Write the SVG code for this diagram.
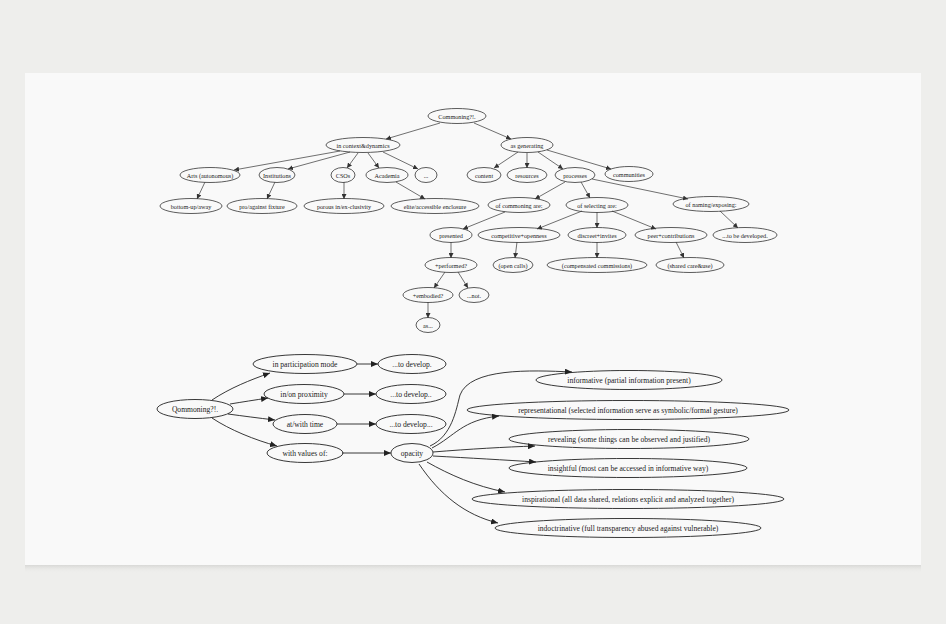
<svg xmlns="http://www.w3.org/2000/svg" width="946" height="624" viewBox="0 0 946 624">
<defs>
<marker id="a" markerUnits="userSpaceOnUse" markerWidth="6" markerHeight="5" refX="5" refY="2.5" orient="auto"><path d="M0,0 L5,2.5 L0,5 Z" fill="#333"/></marker>
<marker id="b" markerUnits="userSpaceOnUse" markerWidth="8" markerHeight="6" refX="7" refY="3" orient="auto"><path d="M0,0 L7,3 L0,6 Z" fill="#222"/></marker>
<linearGradient id="sh" x1="0" y1="0" x2="0" y2="1"><stop offset="0" stop-color="#d8d8d6"/><stop offset="1" stop-color="#eeeeec" stop-opacity="0"/></linearGradient>
</defs>
<style>
.n ellipse{fill:none;stroke:#333;stroke-width:0.8}
.t text{font-family:"Liberation Serif",serif;font-size:6.2px;fill:#222;text-anchor:middle;dominant-baseline:central}
.bt text{font-family:"Liberation Serif",serif;font-size:7.6px;fill:#1a1a1a;text-anchor:middle;dominant-baseline:central}
.bt ellipse{fill:none;stroke:#222;stroke-width:0.9}
#edges path,#edges line{fill:none;stroke:#333;stroke-width:0.7}
#edges2 path,#edges2 line{fill:none;stroke:#222;stroke-width:0.9}
</style>
<rect width="946" height="624" fill="#eeeeec"/>
<rect x="25" y="565" width="896" height="8" fill="url(#sh)"/>
<rect x="25" y="73" width="896" height="492" fill="#f9f9f9"/>

<g id="edges">
<line x1="440" y1="123" x2="386" y2="139" marker-end="url(#a)"/>
<line x1="474" y1="123" x2="511" y2="139" marker-end="url(#a)"/>
<line x1="340" y1="151" x2="234" y2="170" marker-end="url(#a)"/>
<line x1="350" y1="152" x2="288" y2="169" marker-end="url(#a)"/>
<line x1="358" y1="153" x2="347" y2="168" marker-end="url(#a)"/>
<line x1="368" y1="153" x2="379" y2="168" marker-end="url(#a)"/>
<line x1="383" y1="152" x2="418" y2="169" marker-end="url(#a)"/>
<line x1="205" y1="182" x2="197" y2="199" marker-end="url(#a)"/>
<line x1="275" y1="182" x2="267" y2="199" marker-end="url(#a)"/>
<line x1="344" y1="182" x2="344" y2="199" marker-end="url(#a)"/>
<line x1="396" y1="182" x2="425" y2="199" marker-end="url(#a)"/>
<line x1="518" y1="152" x2="494" y2="168" marker-end="url(#a)"/>
<line x1="527" y1="153" x2="527" y2="168" marker-end="url(#a)"/>
<line x1="538" y1="152" x2="563" y2="169" marker-end="url(#a)"/>
<line x1="547" y1="150" x2="611" y2="169" marker-end="url(#a)"/>
<line x1="565" y1="182" x2="535" y2="199" marker-end="url(#a)"/>
<line x1="581" y1="182" x2="590" y2="198" marker-end="url(#a)"/>
<line x1="592" y1="179" x2="688" y2="199" marker-end="url(#a)"/>
<line x1="505" y1="212" x2="463" y2="229" marker-end="url(#a)"/>
<line x1="582" y1="211" x2="537" y2="229" marker-end="url(#a)"/>
<line x1="597" y1="212" x2="597" y2="228" marker-end="url(#a)"/>
<line x1="612" y1="211" x2="656" y2="229" marker-end="url(#a)"/>
<line x1="720" y1="211" x2="738" y2="228" marker-end="url(#a)"/>
<line x1="451" y1="242" x2="451" y2="258" marker-end="url(#a)"/>
<line x1="517" y1="242" x2="515" y2="258" marker-end="url(#a)"/>
<line x1="597" y1="242" x2="597" y2="258" marker-end="url(#a)"/>
<line x1="676" y1="242" x2="684" y2="258" marker-end="url(#a)"/>
<line x1="445" y1="272" x2="434" y2="288" marker-end="url(#a)"/>
<line x1="458" y1="272" x2="468" y2="288" marker-end="url(#a)"/>
<line x1="428" y1="302" x2="428" y2="318" marker-end="url(#a)"/>
</g>

<g id="edges2">
<path d="M212,400 C230,388 250,380 270,373" marker-end="url(#b)"/>
<path d="M230,404 C242,402 255,400 268,398" marker-end="url(#b)"/>
<path d="M228,414 C243,416 258,418 275,420" marker-end="url(#b)"/>
<path d="M212,418 C230,430 255,440 277,446" marker-end="url(#b)"/>
<line x1="357" y1="364" x2="378" y2="364" marker-end="url(#b)"/>
<line x1="344" y1="394" x2="376" y2="394" marker-end="url(#b)"/>
<line x1="337" y1="424" x2="376" y2="424" marker-end="url(#b)"/>
<line x1="342" y1="453" x2="391" y2="453" marker-end="url(#b)"/>
<path d="M430,446 C452,436 456,410 460,395 C470,368 530,370 572,372" marker-end="url(#b)"/>
<path d="M432,448 C455,436 462,420 499,416" marker-end="url(#b)"/>
<path d="M433,452 C470,449 505,447 535,446" marker-end="url(#b)"/>
<path d="M433,456 C470,458 505,460 536,462" marker-end="url(#b)"/>
<path d="M427,462 C450,475 475,486 505,492" marker-end="url(#b)"/>
<path d="M419,464 C440,495 465,515 498,523" marker-end="url(#b)"/>
</g>

<g class="n t">
<g id="commoning"><ellipse cx="457" cy="116" rx="29" ry="7.5"/><text x="457" y="116">Commoning?!.</text></g>
<g id="context"><ellipse cx="363" cy="145" rx="37" ry="7.5"/><text x="363" y="145">in context&amp;dynamics</text></g>
<g id="generating"><ellipse cx="527" cy="145" rx="26" ry="7.5"/><text x="527" y="145">as generating</text></g>
<g id="arts"><ellipse cx="210" cy="175" rx="30" ry="7.5"/><text x="210" y="175">Arts (autonomous)</text></g>
<g id="institutions"><ellipse cx="277" cy="175" rx="18" ry="7.5"/><text x="277" y="175">Institutions</text></g>
<g id="csos"><ellipse cx="343" cy="175" rx="12" ry="7.5"/><text x="343" y="175">CSOs</text></g>
<g id="academia"><ellipse cx="387" cy="175" rx="21" ry="7.5"/><text x="387" y="175">Academia</text></g>
<g id="dots"><ellipse cx="426" cy="175" rx="11" ry="7.5"/><text x="426" y="175">...</text></g>
<g id="content"><ellipse cx="484" cy="175" rx="17" ry="7.5"/><text x="484" y="175">content</text></g>
<g id="resources"><ellipse cx="527" cy="175" rx="20" ry="7.5"/><text x="527" y="175">resources</text></g>
<g id="processes"><ellipse cx="575" cy="175" rx="20" ry="7.5"/><text x="575" y="175">processes</text></g>
<g id="communities"><ellipse cx="629" cy="174" rx="24" ry="7.5"/><text x="629" y="174">communities</text></g>
<g id="bottomup"><ellipse cx="191" cy="206" rx="31" ry="7.5"/><text x="191" y="206">bottom-up/away</text></g>
<g id="proagainst"><ellipse cx="262" cy="206" rx="35" ry="7.5"/><text x="262" y="206">pro/against fixture</text></g>
<g id="porous"><ellipse cx="344" cy="206" rx="40" ry="7.5"/><text x="344" y="206">porous in/ex-clusivity</text></g>
<g id="elite"><ellipse cx="435" cy="206" rx="44" ry="7.5"/><text x="435" y="206">elite/accessible enclosure</text></g>
<g id="ofcommoning"><ellipse cx="519" cy="205" rx="31" ry="7.5"/><text x="519" y="205">of commoning are:</text></g>
<g id="ofselecting"><ellipse cx="597" cy="205" rx="31" ry="7.5"/><text x="597" y="205">of selecting are:</text></g>
<g id="ofnaming"><ellipse cx="711" cy="204" rx="38" ry="7.5"/><text x="711" y="204">of naming/exposing:</text></g>
<g id="presented"><ellipse cx="451" cy="235" rx="21" ry="7.5"/><text x="451" y="235">presented</text></g>
<g id="competitive"><ellipse cx="519" cy="235" rx="41" ry="7.5"/><text x="519" y="235">competitive+openness</text></g>
<g id="discreet"><ellipse cx="597" cy="235" rx="29" ry="7.5"/><text x="597" y="235">discreet+invites</text></g>
<g id="peer"><ellipse cx="671" cy="235" rx="36" ry="7.5"/><text x="671" y="235">peer+contributions</text></g>
<g id="tobedeveloped"><ellipse cx="745" cy="235" rx="32" ry="7.5"/><text x="745" y="235">...to be developed.</text></g>
<g id="performed"><ellipse cx="451" cy="265" rx="26" ry="7.5"/><text x="451" y="265">+performed?</text></g>
<g id="opencalls"><ellipse cx="513" cy="265" rx="20" ry="7.5"/><text x="513" y="265">(open calls)</text></g>
<g id="compensated"><ellipse cx="597" cy="265" rx="50" ry="7.5"/><text x="597" y="265">(compensated commissions)</text></g>
<g id="shared"><ellipse cx="690" cy="265" rx="34" ry="7.5"/><text x="690" y="265">(shared care&amp;use)</text></g>
<g id="embodied"><ellipse cx="428" cy="295" rx="25" ry="7.5"/><text x="428" y="295">+embodied?</text></g>
<g id="not"><ellipse cx="474" cy="295" rx="15" ry="7.5"/><text x="474" y="295">...not.</text></g>
<g id="as"><ellipse cx="428" cy="325" rx="12" ry="7.5"/><text x="428" y="325">as...</text></g>
</g>

<g class="bt">
<g id="qommoning"><ellipse cx="195" cy="409" rx="38" ry="9.5"/><text x="195" y="409">Qommoning?!.</text></g>
<g id="participation"><ellipse cx="305" cy="364" rx="52" ry="9.5"/><text x="305" y="364">in participation mode</text></g>
<g id="dev1"><ellipse cx="412" cy="364" rx="34" ry="9.5"/><text x="412" y="364">...to develop.</text></g>
<g id="proximity"><ellipse cx="304" cy="394" rx="40" ry="9.5"/><text x="304" y="394">in/on proximity</text></g>
<g id="dev2"><ellipse cx="411" cy="394" rx="35" ry="9.5"/><text x="411" y="394">...to develop..</text></g>
<g id="time"><ellipse cx="305" cy="424" rx="32" ry="9.5"/><text x="305" y="424">at/with time</text></g>
<g id="dev3"><ellipse cx="411" cy="424" rx="35" ry="9.5"/><text x="411" y="424">...to develop...</text></g>
<g id="values"><ellipse cx="305" cy="453" rx="38" ry="9.5"/><text x="305" y="453">with values of:</text></g>
<g id="opacity"><ellipse cx="412" cy="453" rx="21" ry="9.5"/><text x="412" y="453">opacity</text></g>
<g id="informative"><ellipse cx="629" cy="380" rx="93" ry="9.5"/><text x="629" y="380">informative (partial information present)</text></g>
<g id="representational"><ellipse cx="628" cy="410" rx="161" ry="9.5"/><text x="628" y="410">representational (selected information serve as symbolic/formal gesture)</text></g>
<g id="revealing"><ellipse cx="629" cy="439" rx="120" ry="9.5"/><text x="629" y="439">revealing (some things can be observed and justified)</text></g>
<g id="insightful"><ellipse cx="628" cy="468" rx="119" ry="9.5"/><text x="628" y="468">insightful (most can be accessed in informative way)</text></g>
<g id="inspirational"><ellipse cx="628" cy="499" rx="156" ry="9.5"/><text x="628" y="499">inspirational (all data shared, relations explicit and analyzed together)</text></g>
<g id="indoctrinative"><ellipse cx="628" cy="528" rx="133" ry="9.5"/><text x="628" y="528">indoctrinative (full transparency abused against vulnerable)</text></g>
</g>
</svg>
